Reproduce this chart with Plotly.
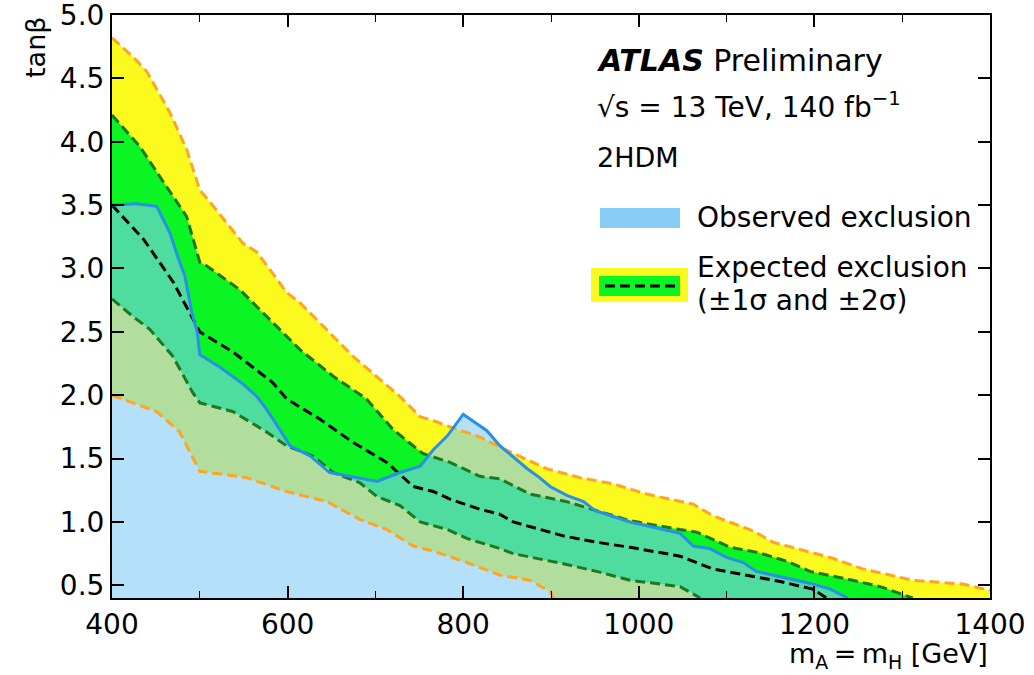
import plotly.graph_objects as go

# ---------------- data ----------------
x_p2 = [400, 424, 440, 466, 485, 500, 512, 549, 565, 599, 614, 652, 674, 728, 751, 766, 785,
        819, 842, 895, 933, 971, 1009, 1062, 1084, 1130, 1153, 1180, 1218, 1255, 1312, 1369, 1400]
y_p2 = [4.82, 4.67, 4.55, 4.23, 3.94, 3.62, 3.52, 3.20, 3.13, 2.81, 2.73, 2.46, 2.31, 1.99, 1.83, 1.80, 1.75,
        1.67, 1.59, 1.42, 1.35, 1.30, 1.22, 1.14, 1.05, 0.93, 0.84, 0.79, 0.72, 0.63, 0.54, 0.51, 0.46]

x_p1 = [400, 432, 455, 485, 500, 508, 546, 583, 614, 652, 690, 720, 754, 785, 819, 842, 876, 918,
        952, 990, 1047, 1066, 1104, 1135, 1169, 1195, 1237, 1275, 1312]
y_p1 = [4.21, 3.96, 3.72, 3.41, 3.05, 3.02, 2.83, 2.57, 2.36, 2.15, 1.97, 1.73, 1.54, 1.47, 1.36, 1.34, 1.22, 1.16,
        1.09, 1.01, 0.94, 0.92, 0.80, 0.76, 0.69, 0.61, 0.55, 0.49, 0.40]

x_med = [400, 436, 470, 485, 500, 538, 583, 599, 637, 674, 713, 743, 766, 785, 819, 842, 857, 914,
         952, 990, 1047, 1084, 1123, 1161, 1198, 1214]
y_med = [3.50, 3.23, 2.89, 2.70, 2.50, 2.34, 2.10, 1.97, 1.81, 1.63, 1.47, 1.28, 1.24, 1.18, 1.10, 1.06, 1.00, 0.89,
         0.84, 0.80, 0.73, 0.63, 0.58, 0.53, 0.47, 0.40]

x_m1 = [400, 424, 443, 469, 492, 500, 538, 576, 599, 629, 652, 682, 702, 728, 751, 782, 804, 819, 842,
        857, 914, 952, 990, 1047, 1070]
y_m1 = [2.76, 2.62, 2.52, 2.31, 2.02, 1.94, 1.87, 1.71, 1.60, 1.52, 1.39, 1.31, 1.20, 1.13, 1.00, 0.94, 0.87, 0.84, 0.79,
        0.75, 0.67, 0.61, 0.54, 0.49, 0.40]

x_m2 = [400, 424, 451, 477, 489, 500, 553, 599, 645, 682, 713, 743, 766, 804, 842, 876, 899, 903]
y_m2 = [2.00, 1.94, 1.87, 1.71, 1.55, 1.40, 1.35, 1.24, 1.16, 1.02, 0.94, 0.81, 0.77, 0.68, 0.58, 0.54, 0.45, 0.40]

x_obs = [400, 428, 451, 466, 475, 483, 491, 497, 500, 523, 549, 565, 576, 591, 603, 626, 648, 702, 728,
         751, 766, 782, 800, 827, 842, 873, 887, 899, 918, 937, 950, 990, 1047, 1062, 1081, 1100, 1119,
         1134, 1161, 1198, 1218, 1238]
y_obs = [3.50, 3.51, 3.49, 3.28, 3.09, 2.94, 2.65, 2.50, 2.32, 2.22, 2.09, 1.99, 1.89, 1.73, 1.60, 1.52, 1.39, 1.32, 1.39,
         1.44, 1.57, 1.68, 1.85, 1.72, 1.60, 1.42, 1.35, 1.28, 1.21, 1.16, 1.09, 1.00, 0.91, 0.81, 0.79, 0.72, 0.68,
         0.61, 0.57, 0.51, 0.47, 0.40]

x_range = [400, 1400]
y_range = [0.4, 5.0]
x_ticks = [400, 600, 800, 1000, 1200, 1400]
y_ticks = [0.5, 1.0, 1.5, 2.0, 2.5, 3.0, 3.5, 4.0, 4.5, 5.0]

# ---------------- styles ----------------
YELLOW = "rgb(250,250,30)"
GREEN = "rgb(10,245,35)"
OBS_FILL = "rgba(128,203,246,0.59)"
OBS_LINE = "rgb(40,145,230)"
ORANGE = "rgb(255,165,35)"
DGREEN = "rgb(30,120,30)"
FONT = "DejaVu Sans, Liberation Sans, Arial, sans-serif"
DASH = "10px,5px"
LW = 3

ybot = y_range[0]
fig = go.Figure()

# 2 sigma band
fig.add_trace(go.Scatter(
    x=x_p2 + [x_range[1]] + x_m2[::-1],
    y=y_p2 + [ybot] + y_m2[::-1],
    fill="toself", fillcolor=YELLOW, mode="none", hoverinfo="skip", showlegend=False))
# 1 sigma band
fig.add_trace(go.Scatter(
    x=x_p1 + x_m1[::-1],
    y=y_p1 + y_m1[::-1],
    fill="toself", fillcolor=GREEN, mode="none", hoverinfo="skip", showlegend=False))
# observed region
fig.add_trace(go.Scatter(
    x=x_obs + [x_range[0]],
    y=y_obs + [ybot],
    fill="toself", fillcolor=OBS_FILL, mode="none", hoverinfo="skip", showlegend=False))

# boundary lines
for xs, ys, col in [(x_p2, y_p2, ORANGE), (x_m2, y_m2, ORANGE),
                    (x_p1, y_p1, DGREEN), (x_m1, y_m1, DGREEN),
                    (x_med, y_med, "black")]:
    fig.add_trace(go.Scatter(x=xs, y=ys, mode="lines",
                             line=dict(color=col, width=LW, dash=DASH),
                             hoverinfo="skip", showlegend=False))
fig.add_trace(go.Scatter(x=x_obs, y=y_obs, mode="lines",
                         line=dict(color=OBS_LINE, width=LW),
                         hoverinfo="skip", showlegend=False))

# ---------------- layout ----------------
L, R, T, B = 112, 44, 15, 77
W, H = 1034, 675
pw, ph = W - L - R, H - T - B


def px(xp):
    return (xp - L) / pw


def py(yp):
    return (H - B - yp) / ph


axis_common = dict(showgrid=False, zeroline=False, showline=True, linecolor="black", linewidth=2,
                   mirror="allticks", ticks="inside", tickcolor="black", tickwidth=1.5,
                   automargin=False, ticklabeloverflow="allow",
                   tickfont=dict(family=FONT, size=28, color="black"))

fig.update_layout(
    width=W, height=H,
    margin=dict(l=L, r=R, t=T, b=B, autoexpand=False),
    paper_bgcolor="white", plot_bgcolor="white",
    font=dict(family=FONT, color="black"),
    xaxis=dict(range=x_range, tickvals=x_ticks, ticklen=12,
               minor=dict(dtick=100, tick0=400, ticks="inside", ticklen=7, tickcolor="black", tickwidth=1.2),
               **axis_common),
    yaxis=dict(range=[y_range[0], y_range[1] + 1e-6], tickvals=y_ticks, tickformat=".1f", ticklen=12,
               **axis_common),
)

# axis titles
fig.add_annotation(xref="paper", yref="paper", x=1.0, y=py(655), xanchor="right", yanchor="middle",
                   text="m<sub>A</sub>\u2009=\u2009m<sub>H</sub> [GeV]", showarrow=False,
                   font=dict(family=FONT, size=27, color="black"))
fig.add_annotation(xref="paper", yref="paper", x=px(36), y=py(48), xanchor="center", yanchor="middle",
                   text="tanβ", textangle=-90, showarrow=False,
                   font=dict(family=FONT, size=27, color="black"))

# labels
fig.add_annotation(xref="paper", yref="paper", x=px(595), y=py(60), xanchor="left", yanchor="middle",
                   text="<b><i>ATLAS</i></b> Preliminary", showarrow=False,
                   font=dict(family=FONT, size=30, color="black"))
fig.add_annotation(xref="paper", yref="paper", x=px(595), y=py(106), xanchor="left", yanchor="middle",
                   text="√s = 13 TeV, 140 fb<sup>−1</sup>", showarrow=False,
                   font=dict(family=FONT, size=28, color="black"))
fig.add_annotation(xref="paper", yref="paper", x=px(595), y=py(157), xanchor="left", yanchor="middle",
                   text="2HDM", showarrow=False,
                   font=dict(family=FONT, size=27, color="black"))

# legend (manual)
fig.add_shape(type="rect", xref="paper", yref="paper", x0=px(600), x1=px(680), y0=py(228), y1=py(208),
              fillcolor="rgb(135,205,246)", line=dict(width=0))
fig.add_annotation(xref="paper", yref="paper", x=px(695), y=py(218), xanchor="left", yanchor="middle",
                   text="Observed exclusion", showarrow=False,
                   font=dict(family=FONT, size=28, color="black"))
fig.add_shape(type="rect", xref="paper", yref="paper", x0=px(591), x1=px(688), y0=py(302), y1=py(268),
              fillcolor=YELLOW, line=dict(width=0))
fig.add_shape(type="rect", xref="paper", yref="paper", x0=px(599), x1=px(680), y0=py(296), y1=py(276),
              fillcolor=GREEN, line=dict(width=0))
fig.add_shape(type="line", xref="paper", yref="paper", x0=px(605), x1=px(675), y0=py(286), y1=py(286),
              line=dict(color="black", width=LW, dash=DASH))
fig.add_annotation(xref="paper", yref="paper", x=px(695), y=py(267), xanchor="left", yanchor="middle",
                   text="Expected exclusion", showarrow=False,
                   font=dict(family=FONT, size=28, color="black"))
fig.add_annotation(xref="paper", yref="paper", x=px(695), y=py(300), xanchor="left", yanchor="middle",
                   text="(±1σ and ±2σ)", showarrow=False,
                   font=dict(family=FONT, size=28, color="black"))

fig.write_html("out.html")
